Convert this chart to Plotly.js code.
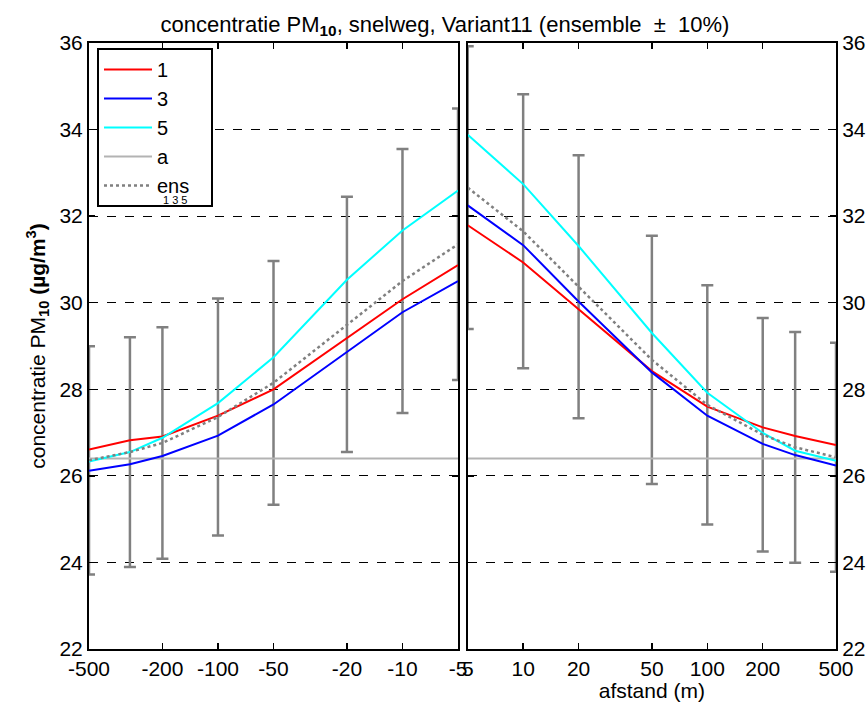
<!DOCTYPE html>
<html><head><meta charset="utf-8">
<script src="https://cdn.plot.ly/plotly-3.0.1.min.js"></script>
<style>html,body{margin:0;padding:0;background:#fff}#chart{width:867px;height:702px}</style>
</head><body><div id="chart"></div>
<script>
// distances (m): left = upwind side (negative), right = downwind side
const distLeft  = [-500, -300, -200, -100, -50, -20, -10, -5];
const distRight = [5, 10, 20, 50, 100, 200, 300, 500];

// series values (µg/m3)
const v1Left  = [26.61, 26.82, 26.91, 27.39, 28.00, 29.19, 30.08, 30.87];
const v3Left  = [26.12, 26.27, 26.46, 26.93, 27.65, 28.87, 29.78, 30.50];
const v5Left  = [26.33, 26.55, 26.88, 27.68, 28.74, 30.53, 31.67, 32.59];
const aLeft   = [26.4, 26.4, 26.4, 26.4, 26.4, 26.4, 26.4, 26.4];
const ensLeft = [26.36, 26.55, 26.76, 27.36, 28.15, 29.50, 30.50, 31.35];

const v1Right  = [31.79, 30.93, 29.85, 28.42, 27.60, 27.12, 26.92, 26.71];
const v3Right  = [32.25, 31.33, 30.03, 28.39, 27.39, 26.74, 26.48, 26.24];
const v5Right  = [33.88, 32.74, 31.31, 29.30, 27.92, 26.99, 26.58, 26.35];
const aRight   = [26.4, 26.4, 26.4, 26.4, 26.4, 26.4, 26.4, 26.4];
const ensRight = [32.66, 31.65, 30.37, 28.68, 27.64, 26.95, 26.66, 26.43];

const errPercent = 10;

const tickLeft  = ['-500', '-200', '-100', '-50', '-20', '-10', '-5'];
const tickRight = ['5', '10', '20', '50', '100', '200', '500'];
const yTicks = [22, 24, 26, 28, 30, 32, 34, 36];
const ensMembers = '1 3 5';

const FONT = 'Liberation Sans, Arial, sans-serif';
const xL = distLeft.map(Math.abs);
const xR = distRight;

function panel(xs, ys, xa, ya, show) {
  return [
    {x: xs, y: ys.ens, xaxis: xa, yaxis: ya, mode: 'lines', line: {width: 0, color: 'rgba(0,0,0,0)'},
     error_y: {type: 'percent', value: errPercent, color: '#808080', thickness: 2.5, width: 6},
     showlegend: false, hoverinfo: 'skip', cliponaxis: false},
    {x: xs, y: ys.a, xaxis: xa, yaxis: ya, mode: 'lines', name: 'a', legendrank: 4,
     line: {color: '#b3b3b3', width: 2}, showlegend: show},
    {x: xs, y: ys.v1, xaxis: xa, yaxis: ya, mode: 'lines', name: '1', legendrank: 1,
     line: {color: '#ff0000', width: 2}, showlegend: show},
    {x: xs, y: ys.v3, xaxis: xa, yaxis: ya, mode: 'lines', name: '3', legendrank: 2,
     line: {color: '#0000ff', width: 2}, showlegend: show},
    {x: xs, y: ys.v5, xaxis: xa, yaxis: ya, mode: 'lines', name: '5', legendrank: 3,
     line: {color: '#00ffff', width: 2}, showlegend: show},
    {x: xs, y: ys.ens, xaxis: xa, yaxis: ya, mode: 'lines', legendrank: 5,
     name: 'ens\u00a0\u00a0\u00a0',
     line: {color: '#808080', width: 2.5, dash: 'dot'}, showlegend: show}
  ];
}

const data = [
  ...panel(xL, {v1: v1Left, v3: v3Left, v5: v5Left, a: aLeft, ens: ensLeft}, 'x', 'y', true),
  ...panel(xR, {v1: v1Right, v3: v3Right, v5: v5Right, a: aRight, ens: ensRight}, 'x2', 'y2', false)
];

const axBase = {
  showline: true, linecolor: '#000', linewidth: 2, mirror: 'ticks',
  ticks: 'inside', ticklen: 6, tickwidth: 1.5, tickcolor: '#000',
  tickfont: {family: FONT, size: 21, color: '#000'}, zeroline: false
};

const layout = {
  width: 867, height: 702,
  paper_bgcolor: '#fff', plot_bgcolor: '#fff',
  margin: {l: 89, r: 31, t: 43, b: 53},
  font: {family: FONT, color: '#000'},
  title: {text: 'concentratie PM<sub><b>10</b></sub>, snelweg, Variant11 (ensemble  ±  10%)',
          font: {family: FONT, size: 22, color: '#000'},
          x: (445 - 89) / 747, xref: 'paper', xanchor: 'center', y: 0.966, yanchor: 'middle'},
  xaxis: Object.assign({}, axBase, {
    type: 'log', domain: [0, 0.494], anchor: 'y',
    range: [Math.log10(Math.abs(distLeft[0])), Math.log10(Math.abs(distLeft[distLeft.length - 1]))],
    tickvals: tickLeft.map(t => Math.abs(parseFloat(t))), ticktext: tickLeft, showgrid: false
  }),
  xaxis2: Object.assign({}, axBase, {
    type: 'log', domain: [0.507, 1], anchor: 'y2',
    range: [Math.log10(distRight[0]), Math.log10(distRight[distRight.length - 1])],
    tickvals: tickRight.map(Number), ticktext: tickRight, showgrid: false,
    title: {text: 'afstand (m)', font: {family: FONT, size: 21, color: '#000'}, standoff: 4}
  }),
  yaxis: Object.assign({}, axBase, {
    anchor: 'x', range: [22, 36], tickvals: yTicks, showgrid: true,
    gridcolor: '#000', gridwidth: 1, griddash: 'dash',
    title: {text: 'concentratie PM<sub><b>10</b></sub> <b>(µg/m<sup>3</sup>)</b>',
            font: {family: FONT, size: 21, color: '#000'}, standoff: 8}
  }),
  yaxis2: Object.assign({}, axBase, {
    anchor: 'x2', side: 'right', range: [22, 36], tickvals: yTicks, showgrid: true,
    gridcolor: '#000', gridwidth: 1, griddash: 'dash'
  }),
  legend: {x: (97 - 89) / 747, y: 1 - (48 - 43) / 606, xanchor: 'left', yanchor: 'top',
           bgcolor: '#fff', bordercolor: '#000', borderwidth: 2, itemwidth: 48,
           font: {family: FONT, size: 20, color: '#000'}, traceorder: 'normal'},
  annotations: [{
    text: ensMembers, xref: 'paper', yref: 'paper',
    x: (161 - 89) / 747, y: 1 - (200 - 43) / 606, xanchor: 'left', yanchor: 'middle',
    showarrow: false, font: {family: FONT, size: 11, color: '#000'}
  }],
  showlegend: true
};

Plotly.newPlot('chart', data, layout, {staticPlot: true, displayModeBar: false});
</script>
</body></html>
